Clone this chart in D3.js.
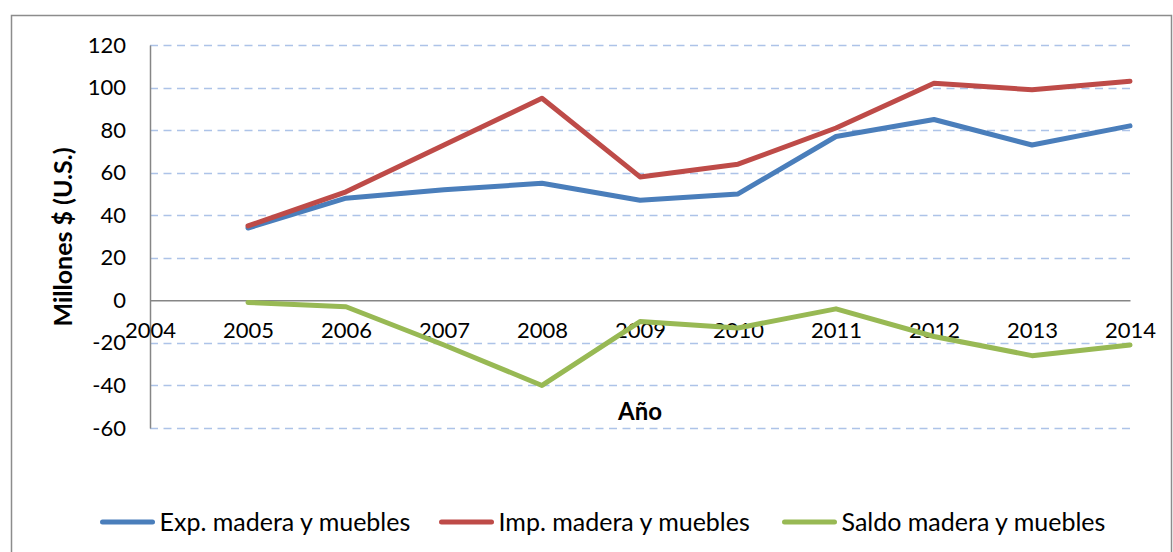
<!DOCTYPE html>
<html>
<head>
<meta charset="utf-8">
<script src="https://cdn.jsdelivr.net/npm/d3@7"></script>
<style>
  body { margin: 0; background: #fff; }
  text { font-family: Lato, "Open Sans", sans-serif; fill: #000; }
</style>
</head>
<body>
<svg id="chart" width="1173" height="552"></svg>
<script>
// datos
const years = [2005, 2006, 2007, 2008, 2009, 2010, 2011, 2012, 2013, 2014];
const expValues = [34, 48, 52, 55, 47, 50, 77, 85, 73, 82];
const impValues = [35, 51, 73, 95, 58, 64, 81, 102, 99, 103];
const saldoValues = [-1, -3, -21, -40, -10, -13, -4, -17, -26, -21];
const yTicks = [-60, -40, -20, 0, 20, 40, 60, 80, 100, 120];
const xTicks = [2004, 2005, 2006, 2007, 2008, 2009, 2010, 2011, 2012, 2013, 2014];
const seriesNames = ["Exp. madera y muebles", "Imp. madera y muebles", "Saldo madera y muebles"];

const colors = ["#4a7ebb", "#be4b48", "#98b954"];
const series = [expValues, impValues, saldoValues];

const svg = d3.select("#chart");

// marco exterior
svg.append("rect")
  .attr("x", 11.5).attr("y", 15.5)
  .attr("width", 1160).attr("height", 545)
  .attr("fill", "none").attr("stroke", "#8c8c8c").attr("stroke-width", 1.5);

const x = d3.scaleLinear().domain([2004, 2014]).range([150, 1130]);
const y = d3.scaleLinear().domain([-60, 120]).range([428, 45]);

// lineas de la grilla
svg.append("g")
  .selectAll("line")
  .data(yTicks.filter(d => d !== 0))
  .enter().append("line")
    .attr("x1", x(2004)).attr("x2", x(2014))
    .attr("y1", d => Math.round(y(d)) + 0.5)
    .attr("y2", d => Math.round(y(d)) + 0.5)
    .attr("stroke", "#adc3e8")
    .attr("stroke-width", 1.5)
    .attr("stroke-dasharray", "8,5.5");

// eje y
const yAxis = d3.axisLeft(y).tickValues(yTicks).tickFormat(d => String(d)).tickSize(0).tickPadding(24);
svg.append("g")
  .attr("transform", "translate(" + x(2004) + ",0)")
  .call(yAxis)
  .call(g => g.select(".domain").attr("stroke", "#868686").attr("stroke-width", 1.5))
  .call(g => g.selectAll("text").style("font-size", "22px").attr("fill", "#000"));

// eje x en cero
const xAxis = d3.axisBottom(x).tickValues(xTicks).tickFormat(d => String(d)).tickSize(0).tickPadding(22);
svg.append("g")
  .attr("transform", "translate(0," + y(0) + ")")
  .call(xAxis)
  .call(g => g.select(".domain").attr("stroke", "#868686").attr("stroke-width", 1.5))
  .call(g => g.selectAll("text").style("font-size", "22px").attr("fill", "#000"));

// series
const line = d3.line()
  .x((d, i) => x(years[i]))
  .y(d => y(d));

svg.append("g")
  .selectAll("path")
  .data(series)
  .enter().append("path")
    .attr("d", line)
    .attr("fill", "none")
    .attr("stroke", (d, i) => colors[i])
    .attr("stroke-width", 5)
    .attr("stroke-linejoin", "round")
    .attr("stroke-linecap", "round");

// titulos de ejes
svg.append("text")
  .attr("transform", "translate(72,237) rotate(-90)")
  .attr("text-anchor", "middle")
  .style("font-size", "25px")
  .style("font-weight", "bold")
  .text("Millones $ (U.S.)");

svg.append("text")
  .attr("x", 640).attr("y", 420)
  .attr("text-anchor", "middle")
  .style("font-size", "24px")
  .style("font-weight", "bold")
  .text("Año");

// leyenda
const legendX = [102.5, 441.5, 784.5];
const legend = svg.selectAll(".legend")
  .data(seriesNames)
  .enter().append("g")
    .attr("class", "legend")
    .attr("transform", (d, i) => "translate(" + legendX[i] + ",522)");

legend.append("line")
  .attr("x1", 0).attr("x2", 50)
  .attr("stroke", (d, i) => colors[i])
  .attr("stroke-width", 5)
  .attr("stroke-linecap", "round");

legend.append("text")
  .attr("x", 57).attr("y", 8.5)
  .style("font-size", "25px")
  .text(d => d);
</script>
</body>
</html>
